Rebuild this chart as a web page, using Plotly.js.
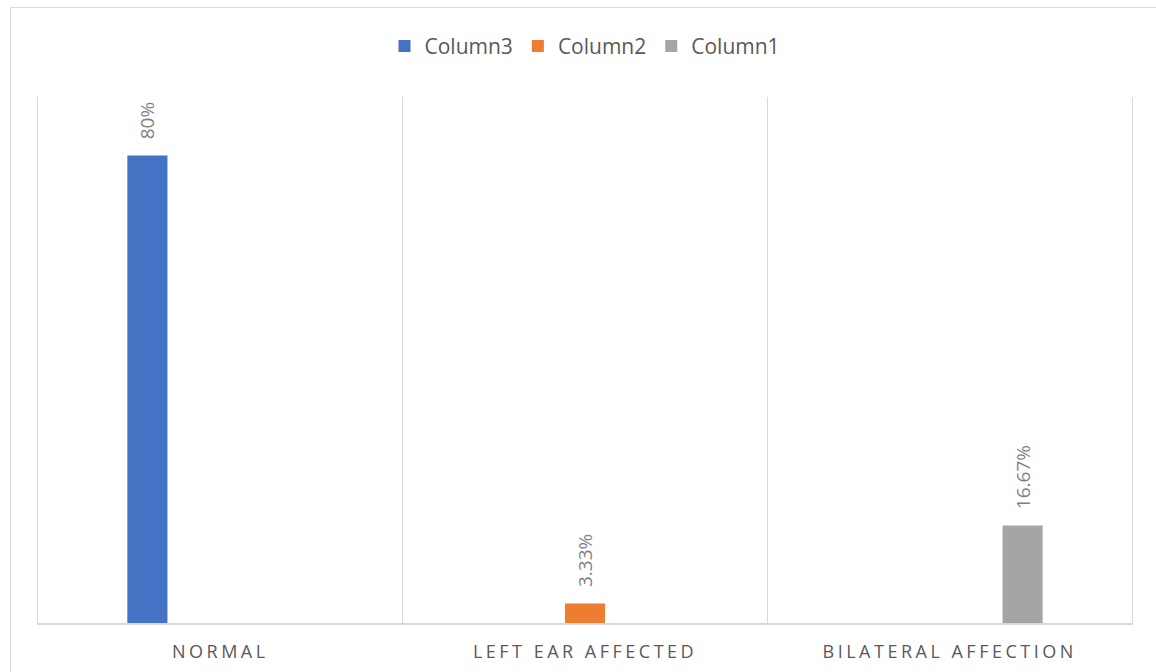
<!DOCTYPE html>
<html>
<head>
<meta charset="utf-8">
<script src="https://cdn.plot.ly/plotly-3.0.1.min.js"></script>
<style>
  html, body { margin: 0; padding: 0; background: #ffffff; }
  #wrap { position: relative; width: 1156px; height: 672px; overflow: hidden; }
  #chart { width: 1156px; height: 672px; }
  #frame { position: absolute; left: 10px; top: 7px; width: 1200px; height: 720px; border: 1px solid #d9d9d9; pointer-events: none; }
  .xtick text { letter-spacing: 3.5px; }
</style>
</head>
<body>
<div id="wrap">
  <div id="chart"></div>
  <div id="frame"></div>
</div>
<script>
const categories = ["NORMAL", "LEFT EAR AFFECTED", "BILATERAL AFFECTION"];
const seriesNames = ["Column3", "Column2", "Column1"];
const column3 = [80, null, null];
const column2 = [null, 3.33, null];
const column1 = [null, null, 16.67];
const seriesColors = ["#4472C4", "#ED7D31", "#A5A5A5"];

const seriesValues = [column3, column2, column1];
const bargap = 0.4;

const traces = seriesValues.map((vals, i) => ({
  type: "bar",
  name: seriesNames[i],
  x: categories,
  y: vals,
  marker: { color: seriesColors[i] },
  hoverinfo: "x+y+name"
}));

// data labels placed at each bar's slot via the category axis
const annotations = [];
const nS = seriesValues.length;
const slot = (1 - bargap) / nS;
seriesValues.forEach((vals, si) => {
  vals.forEach((v, ci) => {
    if (v === null || v === undefined) return;
    annotations.push({
      xref: "x", yref: "y",
      x: ci + (si - (nS - 1) / 2) * slot,
      y: v,
      text: v + "%",
      textangle: -90,
      showarrow: false,
      xanchor: "center",
      yanchor: "bottom",
      yshift: 14,
      font: { family: "Open Sans, sans-serif", size: 19, color: "#7f7f7f" }
    });
  });
});

const layout = {
  width: 1156,
  height: 672,
  margin: { l: 38, r: 24, t: 97, b: 49 },
  paper_bgcolor: "#ffffff",
  plot_bgcolor: "#ffffff",
  barmode: "group",
  bargap: bargap,
  bargroupgap: 0.45,
  font: { family: "Open Sans, sans-serif", color: "#595959" },
  showlegend: true,
  legend: {
    orientation: "h",
    x: 0.5, xanchor: "center",
    y: 0.931, yanchor: "middle",
    yref: "container",
    font: { size: 21, color: "#595959", family: "Open Sans, sans-serif" },
    traceorder: "normal"
  },
  annotations: annotations,
  xaxis: {
    type: "category",
    tickson: "boundaries",
    ticks: "",
    showgrid: true,
    gridcolor: "#d9d9d9",
    gridwidth: 1,
    showline: true,
    linecolor: "#d9d9d9",
    linewidth: 1.5,
    ticklabelstandoff: 12,
    tickfont: { size: 18, color: "#595959", family: "Open Sans, sans-serif" },
    fixedrange: true
  },
  yaxis: {
    range: [0, 90],
    showticklabels: false,
    showgrid: false,
    zeroline: false,
    showline: true,
    mirror: true,
    linecolor: "#d9d9d9",
    linewidth: 1,
    ticks: "",
    fixedrange: true
  }
};

Plotly.newPlot("chart", traces, layout, { displayModeBar: false, staticPlot: true });
</script>
</body>
</html>
